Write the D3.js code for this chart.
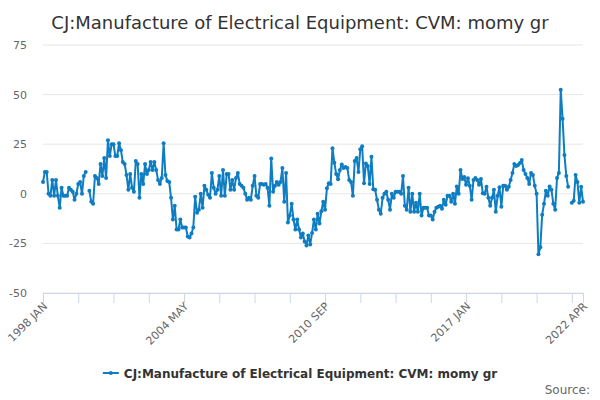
<!DOCTYPE html>
<html>
<head>
<meta charset="utf-8">
<script src="https://cdn.jsdelivr.net/npm/d3@7"></script>
<style>
	body { margin: 0; background: #ffffff; }
	svg { font-family: "DejaVu Sans", sans-serif; }
</style>
</head>
<body>
<svg id="chart" width="600" height="400"></svg>
<script>
// monthly series, 1998 JAN .. 2022 APR (null = no value)
var startYear = 1998;
var monthNames = ["JAN", "FEB", "MAR", "APR", "MAY", "JUN", "JUL", "AUG", "SEP", "OCT", "NOV", "DEC"];
var values = [
	6, 11, 11, 0, -1, 7, -1, 7, -1, -7, 3, -1,
	-1, -1, 3, 2, 1, -3, 0, 5, 6, 0, 9, 11,
	null, 1.5, -4, -5, 9, 8, 5, 15, 9, 18, 8, 27,
	19, 25, 25, 19, 19, 25.5, 22, 16, 15, 9.5, 2, 10,
	3, 1, 16.5, 15, -2, 10, 5, 15, 10, 12, 16, 12,
	16, 12, 7, 5, 8, 25.5, 9.5, 6.5, 6, -2, -13, -6,
	-18, -18, -13, -17, -17, -17, -21.5, -22, -20, -17, -1.5, -9.5,
	-8, 0, -7, 4, 2, -0.5, -2, 10.5, 3, 0, 2, 9,
	-1, 12, -1, 10, 10, 2, 7, 2, 8, 10.5, 5, 4,
	3, 0, -3, -2, -3, 4, 9, -1, -2, 5, 5, 4.5,
	5, 3, -6, 17.8, 1, 4, 6, 4.5, 6, 13, -4, 10.5,
	-14.5, -11, -5, -13, -18, -13, -18, -22, -20, -24, -26, -21,
	-25.5, -19.7, -13, -18, -10, -15, -8.8, -4, -8, 2.8, 5.3, 5,
	23, 15.7, 10, 7.3, 12, 14.8, 13, 13.5, 13, 7, 6, -1,
	16.5, 18, 11, 22.5, 24, 5.3, 15.3, 14, 5, 18.7, 2.3, 2,
	-3, -8, -10, -2, 0, 1, -3, -8, 0, -2, 1, 1,
	1, 0, 9, -6, -8, 3, -9, 0, -9, -4.5, -9, 0,
	-11, -7, -7, -7, -11, -11, -13, -9, -7, -6.5, -6, -7.5,
	-3, -5.5, -1, -1, -4, 0, -5, 3.7, 0, 12, 7.5, 8.5,
	4.5, 7.8, 4, -3, 7, 8, 7, 4.5, 7.5, 0.3, 0, 3.5,
	-2, -6, -2, 2, -9, -1, 3.3, -6.5, 4, 4, 2, 3.5,
	7, 10.5, 15, 14, 14.5, 15.5, 17, 12, 10, 8, 5, 10.5,
	9.5, 4, 0, -30.5, -27, -10.5, -5, 1.5, -1, 3.7, 2, -5,
	-8, 8, 10.5, 52.5, 37.8, 19.5, 9, 3.5, null, -4.5, -3.5, 9.5,
	6, -4.5, 3.5, -4
];
var yTicks = [-50, -25, 0, 25, 50, 75];
var xTickStep = 19;
var xLabelEvery = 4;
var titleText = "CJ:Manufacture of Electrical Equipment: CVM: momy gr";
var seriesName = "CJ:Manufacture of Electrical Equipment: CVM: momy gr";
var sourceText = "Source:";

var lineColor = "#0e7dc2";

var monthLabel = function(m) {
	return (startYear + Math.floor(m / 12)) + " " + monthNames[m % 12];
};

var margin = {top: 45, right: 17, bottom: 107, left: 43},
	width = 600 - margin.left - margin.right,
	height = 400 - margin.top - margin.bottom;

var svg = d3.select("#chart");

var data = values.map(function(v, i) { return {m: i, v: v}; });
var lastM = values.length - 1;

var x = d3.scaleLinear()
	.domain([0, lastM])
	.range([0, width]);

var y = d3.scaleLinear()
	.domain([d3.min(yTicks), d3.max(yTicks)])
	.range([height, 0]);

var g = svg.append("g")
	.attr("transform", "translate(" + margin.left + "," + margin.top + ")");

// horizontal grid
g.append("g")
	.selectAll("line")
	.data(yTicks)
	.enter()
	.append("line")
		.attr("x1", 0)
		.attr("x2", width)
		.attr("y1", d => y(d))
		.attr("y2", d => y(d))
		.attr("stroke", "#e6e6e6")
		.attr("stroke-width", 1);

// y labels
g.append("g")
	.selectAll("text")
	.data(yTicks)
	.enter()
	.append("text")
		.attr("x", -16)
		.attr("y", d => y(d) + 4)
		.attr("text-anchor", "end")
		.style("font-size", "11px")
		.style("fill", "#666666")
		.text(d => d);

// x axis: tick every 19 months plus the last month
var xTicks = d3.range(0, lastM + 1, xTickStep);
if (xTicks[xTicks.length - 1] != lastM) xTicks.push(lastM);
var labelTicks = xTicks.filter(function(m, i) {
	return (i % xLabelEvery == 0) || m == lastM;
});

var xAxis = d3.axisBottom(x)
	.tickValues(xTicks)
	.tickSize(10)
	.tickFormat("");

var xg = g.append("g")
	.attr("transform", "translate(0," + height + ")")
	.call(xAxis);
xg.select(".domain").attr("stroke", "#ccd6eb");
xg.selectAll(".tick line").attr("stroke", "#ccd6eb");

g.append("g")
	.selectAll("text")
	.data(labelTicks)
	.enter()
	.append("text")
		.attr("transform", d => "translate(" + (x(d) + 5) + "," + (height + 14) + ") rotate(-45)")
		.attr("text-anchor", "end")
		.style("font-size", "11px")
		.style("fill", "#666666")
		.text(d => monthLabel(d));

// series line + markers
var line = d3.line()
	.defined(d => d.v !== null)
	.x(d => x(d.m))
	.y(d => y(d.v));

g.append("path")
	.datum(data)
	.attr("d", line)
	.attr("fill", "none")
	.attr("stroke", lineColor)
	.attr("stroke-width", 2)
	.attr("stroke-linejoin", "round");

g.append("g")
	.selectAll("circle")
	.data(data.filter(d => d.v !== null))
	.enter()
	.append("circle")
		.attr("cx", d => x(d.m))
		.attr("cy", d => y(d.v))
		.attr("r", 2)
		.attr("fill", lineColor);

// title
svg.append("text")
	.attr("x", 300)
	.attr("y", 29)
	.attr("text-anchor", "middle")
	.style("font-size", "18px")
	.style("fill", "#333333")
	.text(titleText);

// legend
var legend = svg.append("g");
var legendText = legend.append("text")
	.attr("x", 21)
	.attr("y", 378)
	.style("font-size", "12px")
	.style("font-weight", "bold")
	.style("fill", "#333333")
	.text(seriesName);
var legendW = 21 + legendText.node().getComputedTextLength();
legend.attr("transform", "translate(" + (300 - legendW / 2) + ",0)");
legend.append("line")
	.attr("x1", 0)
	.attr("x2", 16)
	.attr("y1", 373)
	.attr("y2", 373)
	.attr("stroke", lineColor)
	.attr("stroke-width", 2);
legend.append("circle")
	.attr("cx", 8)
	.attr("cy", 373)
	.attr("r", 2)
	.attr("fill", lineColor);

// source
svg.append("text")
	.attr("x", 590)
	.attr("y", 394)
	.attr("text-anchor", "end")
	.style("font-size", "12px")
	.style("fill", "#666666")
	.text(sourceText);
</script>
</body>
</html>
